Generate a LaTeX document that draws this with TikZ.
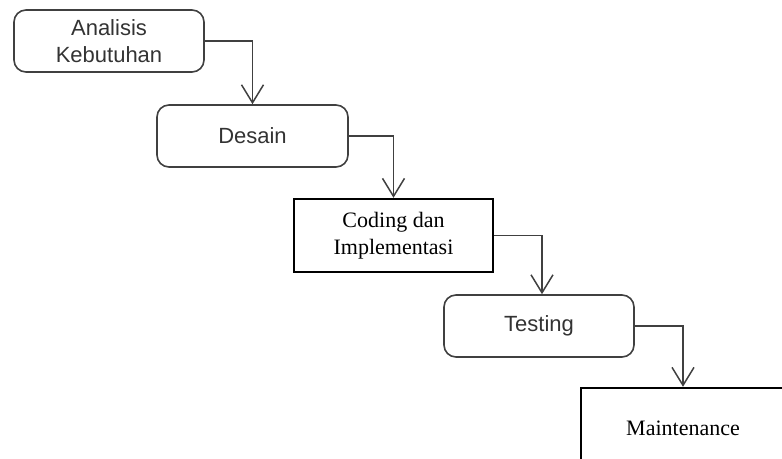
\documentclass[tikz,border=0pt]{standalone}
\usepackage{fontspec}
\setmainfont{Liberation Serif}
\newfontfamily\arial{Liberation Sans}
\usetikzlibrary{arrows.meta}

\begin{document}
\begin{tikzpicture}[x=1pt, y=-1pt,
  phase/.style={draw=black!75, line width=1.6pt, rectangle, rounded corners=12pt,
    minimum width=190pt, minimum height=62pt, align=center, text=black!80,
    font=\arial\fontsize{22}{27}\selectfont},
  plain/.style={draw=black, line width=2.4pt, rectangle, minimum width=199pt,
    minimum height=73pt, align=center, font=\fontsize{22}{27}\selectfont},
  flow/.style={draw=black!75, line width=1.5pt,
    -{Straight Barb[length=18pt,width=22pt,line width=1.5pt]}}]
  \useasboundingbox (0,0) rectangle (782,458);
  \clip (0,0) rectangle (782,458);
  \node[phase] (ana) at (109,41)    {Analisis\\Kebutuhan};
  \node[phase, minimum width=191pt] (des) at (252.5,136) {Desain};
  \node[plain] (cod) at (393.5,235.5) {Coding dan\\Implementasi};
  \node[phase] (tes) at (539,326)   {Testing};
  \node[plain, minimum width=204pt, minimum height=80pt] (mai) at (683,428) {Maintenance};
  \draw[flow] (ana.east) -| (des.north);
  \draw[flow] (des.east) -| (cod.north);
  \draw[flow] (cod.east) -| ([xshift=3pt]tes.north);
  \draw[flow] (tes.east) -| (mai.north);
\end{tikzpicture}
\end{document}
